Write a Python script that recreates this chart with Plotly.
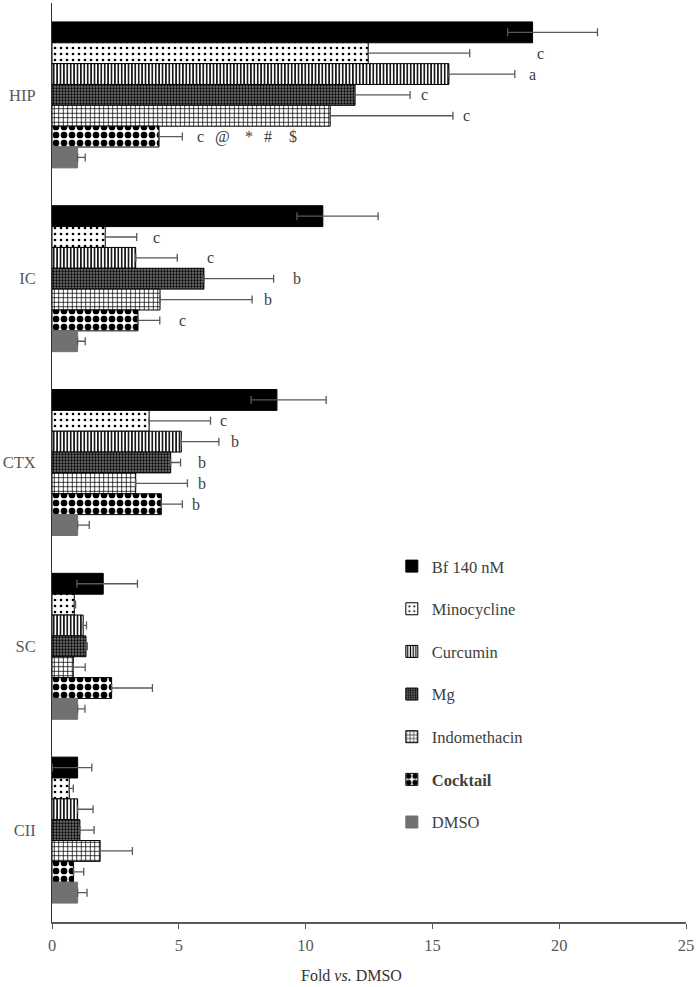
import plotly.graph_objects as go

regions = ["HIP", "IC", "CTX", "SC", "CII"]
series = ["Bf 140 nM", "Minocycline", "Curcumin", "Mg", "Indomethacin", "Cocktail", "DMSO"]

values = {
    "Bf 140 nM":    [18.95, 10.68, 8.87, 2.02, 1.01],
    "Minocycline":  [12.47, 2.10, 3.83, 0.88, 0.68],
    "Curcumin":     [15.65, 3.30, 5.10, 1.23, 1.01],
    "Mg":           [11.95, 5.99, 4.68, 1.34, 1.10],
    "Indomethacin": [10.97, 4.26, 3.30, 0.84, 1.90],
    "Cocktail":     [4.22, 3.39, 4.31, 2.35, 0.85],
    "DMSO":         [1.01, 1.01, 1.01, 1.01, 1.01],
}
err_plus = {
    "Bf 140 nM":    [2.56, 2.18, 1.94, 1.35, 0.56],
    "Minocycline":  [4.00, 1.24, 2.42, 0.05, 0.16],
    "Curcumin":     [2.60, 1.64, 1.48, 0.13, 0.61],
    "Mg":           [2.17, 2.75, 0.39, 0.05, 0.56],
    "Indomethacin": [4.84, 3.63, 2.04, 0.47, 1.27],
    "Cocktail":     [0.92, 0.86, 0.83, 1.61, 0.40],
    "DMSO":         [0.30, 0.30, 0.46, 0.29, 0.37],
}
err_minus_bf = [0.98, 1.02, 1.02, 1.04, 1.00]

# significance labels: (region, series, text, x position)
sig_labels = [
    ("HIP", "Minocycline", "c", 19.27),
    ("HIP", "Curcumin", "a", 18.95),
    ("HIP", "Mg", "c", 14.7),
    ("HIP", "Indomethacin", "c", 16.36),
    ("HIP", "Cocktail", "c", 5.86),
    ("HIP", "Cocktail", "@", 6.72),
    ("HIP", "Cocktail", "*", 7.75),
    ("HIP", "Cocktail", "#", 8.53),
    ("HIP", "Cocktail", "$", 9.52),
    ("IC", "Minocycline", "c", 4.13),
    ("IC", "Curcumin", "c", 6.25),
    ("IC", "Mg", "b", 9.66),
    ("IC", "Indomethacin", "b", 8.53),
    ("IC", "Cocktail", "c", 5.14),
    ("CTX", "Minocycline", "c", 6.76),
    ("CTX", "Curcumin", "b", 7.2),
    ("CTX", "Mg", "b", 5.9),
    ("CTX", "Indomethacin", "b", 5.93),
    ("CTX", "Cocktail", "b", 5.66),
]

x_ticks = [0, 5, 10, 15, 20, 25]
x_title = "Fold <i>vs.</i> DMSO"

styles = {
    "Bf 140 nM":    dict(color="black", line=dict(color="black", width=1)),
    "Minocycline":  dict(color="white", line=dict(color="black", width=1),
                         pattern=dict(shape=".", fgcolor="black", bgcolor="white", size=6,
                                      solidity=0.15, fillmode="overlay", fgopacity=1)),
    "Curcumin":     dict(color="white", line=dict(color="black", width=1),
                         pattern=dict(shape="|", fgcolor="black", bgcolor="white", size=3.4,
                                      solidity=0.45, fillmode="overlay", fgopacity=1)),
    "Mg":           dict(color="#6a6a6a", line=dict(color="black", width=1),
                         pattern=dict(shape=".", fgcolor="black", bgcolor="#707070", size=3,
                                      solidity=0.45, fillmode="overlay", fgopacity=1)),
    "Indomethacin": dict(color="white", line=dict(color="black", width=1),
                         pattern=dict(shape="+", fgcolor="black", bgcolor="white", size=4.5,
                                      solidity=0.3, fillmode="overlay", fgopacity=1)),
    "Cocktail":     dict(color="white", line=dict(color="black", width=1),
                         pattern=dict(shape=".", fgcolor="black", bgcolor="white", size=8,
                                      solidity=0.55, fillmode="overlay", fgopacity=1)),
    "DMSO":         dict(color="#717171", line=dict(color="#717171", width=1)),
}

FONT = "Liberation Serif, Times New Roman, serif"
ERRC = "#595959"

fig = go.Figure()
for s in series:
    if s == "Bf 140 nM":
        ex = dict(type="data", symmetric=False, array=err_plus[s], arrayminus=err_minus_bf,
                  color=ERRC, thickness=1.3, width=4)
    else:
        ex = dict(type="data", symmetric=False, array=err_plus[s], arrayminus=[0] * len(regions),
                  color=ERRC, thickness=1.3, width=4)
    name = "<b>" + s + "</b>" if s == "Cocktail" else s
    fig.add_trace(go.Bar(
        y=regions, x=values[s], name=name, orientation="h",
        marker=styles[s], error_x=ex, legendgroup=s,
    ))

bargap = 0.206
n = len(series)
bw = (1 - bargap) / n
annotations = []
for reg, s, txt, xpos in sig_labels:
    gi = regions.index(reg)
    si = series.index(s)
    ypos = gi - (1 - bargap) / 2 + (si + 0.5) * bw
    annotations.append(dict(x=xpos, y=ypos, xref="x", yref="y", text=txt, showarrow=False,
                            font=dict(family=FONT, size=16, color="#404040"),
                            xanchor="center", yanchor="middle"))
annotations.append(dict(x=0.473, y=-0.058, xref="paper", yref="paper", text=x_title,
                        showarrow=False, xanchor="center", yanchor="middle",
                        font=dict(family=FONT, size=16, color="#333333")))

fig.update_layout(
    width=697, height=987,
    margin=dict(l=51, r=10, t=3, b=65),
    plot_bgcolor="white", paper_bgcolor="white",
    barmode="group", bargap=bargap, bargroupgap=0,
    font=dict(family=FONT, size=14, color="#595959"),
    showlegend=True,
    legend=dict(x=0.536, y=0.406, xanchor="left", yanchor="top",
                font=dict(family=FONT, size=16.5, color="#404040"),
                tracegroupgap=18.2, itemwidth=30, bgcolor="rgba(0,0,0,0)",
                traceorder="grouped"),
    annotations=annotations,
)
fig.update_xaxes(range=[0, 25], tickvals=x_ticks, ticks="outside", ticklen=5, tickwidth=1.3,
                 tickcolor=ERRC, showline=True, linecolor=ERRC, linewidth=1.5,
                 showgrid=False, zeroline=False, ticklabelstandoff=2,
                 tickfont=dict(family=FONT, size=16.5, color="#595959"))
fig.update_yaxes(autorange="reversed", showline=True, linecolor="#333333", linewidth=1,
                 ticks="", showgrid=False, ticklabelstandoff=12,
                 tickfont=dict(family=FONT, size=16.5, color="#595959"))

fig.write_html("out.html", config={"displayModeBar": False},
               post_script="document.body.style.margin='0';document.body.style.overflow='hidden';")
